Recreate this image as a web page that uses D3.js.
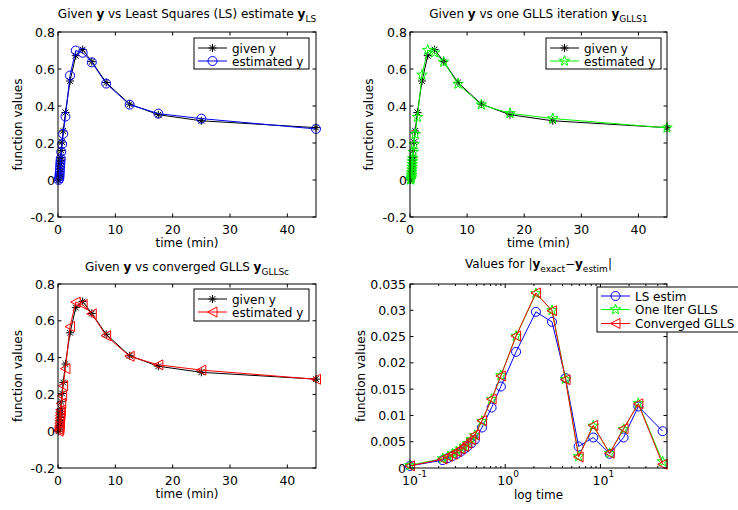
<!DOCTYPE html>
<html>
<head>
<meta charset="utf-8">
<script src="https://cdn.jsdelivr.net/npm/d3@7"></script>
<style>
  body { margin: 0; background: #fff; }
  text { font-family: "DejaVu Sans", sans-serif; fill: #000; }
</style>
</head>
<body>
<svg id="fig" width="738" height="510"></svg>
<script>
// sample times (min)
const times = [0.1, 0.22, 0.25, 0.28, 0.31, 0.34, 0.37, 0.40, 0.44, 0.48, 0.57, 0.72, 0.9, 1.3, 2.1, 3.1, 4.3, 5.9, 8.4, 12.5, 17.5, 25, 45];

// function values
const givenY = [0.000, 0.010, 0.020, 0.032, 0.045, 0.060, 0.075, 0.090, 0.106, 0.122, 0.160, 0.205, 0.265, 0.365, 0.535, 0.672, 0.705, 0.640, 0.527, 0.410, 0.353, 0.320, 0.283];
const lsY    = [0.0004, 0.0085, 0.0181, 0.0297, 0.0423, 0.0569, 0.0714, 0.0859, 0.1013, 0.1166, 0.1523, 0.1935, 0.2495, 0.3429, 0.5647, 0.6998, 0.6879, 0.6359, 0.5212, 0.4073, 0.3588, 0.3317, 0.2760];
const glls1Y = [0.0005, 0.0082, 0.0178, 0.0293, 0.0419, 0.0564, 0.0709, 0.0853, 0.1006, 0.1158, 0.1511, 0.1919, 0.2474, 0.3399, 0.5682, 0.7020, 0.6881, 0.6378, 0.5190, 0.4072, 0.3604, 0.3323, 0.2818];
const gllscY = [0.0004, 0.0083, 0.0178, 0.0294, 0.0419, 0.0564, 0.0709, 0.0853, 0.1006, 0.1157, 0.1510, 0.1919, 0.2475, 0.3399, 0.5683, 0.7019, 0.6882, 0.6379, 0.5189, 0.4072, 0.3605, 0.3322, 0.2823];

// |y_exact - y_estim|
const lsErr    = [0.0004, 0.0015, 0.0019, 0.0023, 0.0027, 0.0031, 0.0036, 0.0041, 0.0047, 0.0054, 0.0077, 0.0115, 0.0155, 0.0221, 0.0297, 0.0278, 0.0171, 0.0041, 0.0058, 0.0027, 0.0058, 0.0117, 0.0070];
const glls1Err = [0.0005, 0.0018, 0.0022, 0.0027, 0.0031, 0.0036, 0.0041, 0.0047, 0.0054, 0.0062, 0.0089, 0.0131, 0.0176, 0.0251, 0.0332, 0.0300, 0.0169, 0.0022, 0.0080, 0.0028, 0.0074, 0.0123, 0.0012];
const gllscErr = [0.0004, 0.0017, 0.0022, 0.0026, 0.0031, 0.0036, 0.0041, 0.0047, 0.0054, 0.0063, 0.0090, 0.0131, 0.0175, 0.0251, 0.0333, 0.0299, 0.0168, 0.0021, 0.0081, 0.0028, 0.0075, 0.0122, 0.0007];

// tick values
const timeTicks = [0, 10, 20, 30, 40];
const valueTicks = [-0.2, 0, 0.2, 0.4, 0.6, 0.8];
const errTicks = [0, 0.005, 0.01, 0.015, 0.02, 0.025, 0.03, 0.035];
const errTickLabels = ['0', '0.005', '0.01', '0.015', '0.02', '0.025', '0.03', '0.035'];
const logTicks = [0.1, 1, 10];
const logTickExp = ['-1', '0', '1'];
const logMinor = [0.2, 0.3, 0.4, 0.5, 0.6, 0.7, 0.8, 0.9, 2, 3, 4, 5, 6, 7, 8, 9, 20, 30, 40];

const svg = d3.select('#fig');

// marker shapes (MATLAB style)
function markerPath(kind) {
  if (kind === 'asterisk') {
    const r = 4, a = r * 0.72;
    return `M${-r},0H${r}M0,${-r}V${r}M${-a},${-a}L${a},${a}M${-a},${a}L${a},${-a}`;
  }
  if (kind === 'star') {
    let pts = [];
    for (let i = 0; i < 10; i++) {
      const R = i % 2 === 0 ? 5.5 : 2.2;
      const ang = -Math.PI / 2 + i * Math.PI / 5;
      pts.push([R * Math.cos(ang), R * Math.sin(ang)]);
    }
    return 'M' + pts.map(p => p.join(',')).join('L') + 'Z';
  }
  if (kind === 'tri') return 'M-5,0L4.5,-5L4.5,5Z';
  return null;
}

function drawMarker(g, kind, x, y, color) {
  if (kind === 'circle') {
    g.append('circle').attr('cx', x).attr('cy', y).attr('r', 4.5)
      .attr('fill', 'none').attr('stroke', color).attr('stroke-width', 1);
  } else {
    g.append('path').attr('d', markerPath(kind)).attr('transform', `translate(${x},${y})`)
      .attr('fill', 'none').attr('stroke', color).attr('stroke-width', 1);
  }
}

function drawSeries(g, xs, ys, x, y, color, kind) {
  const line = d3.line().x((d, i) => x(xs[i])).y(d => y(d));
  g.append('path').attr('d', line(ys)).attr('fill', 'none')
    .attr('stroke', color).attr('stroke-width', 1);
  ys.forEach((v, i) => drawMarker(g, kind, x(xs[i]), y(v), color));
}

// text with bold / subscript parts
function richText(x, y, parts, anchor) {
  const t = svg.append('text').attr('x', x).attr('y', y)
    .attr('text-anchor', anchor || 'middle').attr('font-size', 12);
  let inSub = false;
  parts.forEach(p => {
    const s = t.append('tspan').text(p.t);
    if (p.b) s.attr('font-weight', 'bold');
    if (p.sub && !inSub) { s.attr('dy', 4).attr('font-size', 9); inSub = true; }
    else if (p.sub) s.attr('font-size', 9);
    else if (inSub) { s.attr('dy', -4); inSub = false; }
  });
  return t;
}

function box(g, x, y) {
  const [x0, x1] = x.range(), [y1, y0] = y.range();
  g.append('rect').attr('x', x0).attr('y', y0).attr('width', x1 - x0).attr('height', y1 - y0)
    .attr('fill', 'none').attr('stroke', '#000').attr('stroke-width', 1);
}

function ticks(g, x, y, xt, yt, xlen, ylen) {
  const [x0, x1] = x.range(), [y1, y0] = y.range();
  xt.forEach(v => {
    g.append('line').attr('x1', x(v)).attr('x2', x(v)).attr('y1', y1).attr('y2', y1 - xlen).attr('stroke', '#000');
    g.append('line').attr('x1', x(v)).attr('x2', x(v)).attr('y1', y0).attr('y2', y0 + xlen).attr('stroke', '#000');
  });
  yt.forEach(v => {
    g.append('line').attr('x1', x0).attr('x2', x0 + ylen).attr('y1', y(v)).attr('y2', y(v)).attr('stroke', '#000');
    g.append('line').attr('x1', x1).attr('x2', x1 - ylen).attr('y1', y(v)).attr('y2', y(v)).attr('stroke', '#000');
  });
}

function legend(x0, y0, w, h, rows) {
  const g = svg.append('g');
  g.append('rect').attr('x', x0).attr('y', y0).attr('width', w).attr('height', h)
    .attr('fill', '#fff').attr('stroke', '#000').attr('stroke-width', 1);
  rows.forEach(r => {
    g.append('line').attr('x1', x0 + 4).attr('x2', x0 + 33).attr('y1', r.y).attr('y2', r.y)
      .attr('stroke', r.color).attr('stroke-width', 1);
    drawMarker(g, r.kind, x0 + 18.5, r.y, r.color);
    g.append('text').attr('x', x0 + 38).attr('y', r.y + 4.5).attr('font-size', 12).text(r.label);
  });
}

// ---------- three fit panels ----------
const fitPanels = [
  { left: 58, right: 316, top: 32, bottom: 217, est: lsY, color: '#0000ff', kind: 'circle',
    title: [{ t: 'Given ' }, { t: 'y', b: 1 }, { t: ' vs Least Squares (LS) estimate ' }, { t: 'y', b: 1 }, { t: 'LS', sub: 1 }],
    titleY: 18, ylabX: 22, leg: [194, 38, 115, 31] },
  { left: 410, right: 667, top: 32, bottom: 217, est: glls1Y, color: '#00ff00', kind: 'star',
    title: [{ t: 'Given ' }, { t: 'y', b: 1 }, { t: ' vs one GLLS iteration ' }, { t: 'y', b: 1 }, { t: 'GLLS1', sub: 1 }],
    titleY: 17.5, ylabX: 373, leg: [546, 38, 115, 31] },
  { left: 58, right: 316, top: 284, bottom: 468, est: gllscY, color: '#ff0000', kind: 'tri',
    title: [{ t: 'Given ' }, { t: 'y', b: 1 }, { t: ' vs converged GLLS ' }, { t: 'y', b: 1 }, { t: 'GLLSc', sub: 1 }],
    titleY: 271, ylabX: 22, leg: [194, 289, 115, 32] }
];

fitPanels.forEach(p => {
  const x = d3.scaleLinear().domain([0, 45]).range([p.left, p.right]);
  const y = d3.scaleLinear().domain([-0.2, 0.8]).range([p.bottom, p.top]);
  const g = svg.append('g');
  g.append('rect').attr('x', p.left).attr('y', p.top).attr('width', p.right - p.left)
    .attr('height', p.bottom - p.top).attr('fill', '#fff');
  ticks(g, x, y, timeTicks, valueTicks, 3.5, 3.5);
  drawSeries(g, times, givenY, x, y, '#000', 'asterisk');
  drawSeries(g, times, p.est, x, y, p.color, p.kind);
  box(g, x, y);

  timeTicks.forEach(v => g.append('text').attr('x', x(v)).attr('y', p.bottom + 17)
    .attr('text-anchor', 'middle').attr('font-size', 12.5).text(v));
  valueTicks.forEach(v => g.append('text').attr('x', p.left - 3).attr('y', y(v) + 4.5)
    .attr('text-anchor', 'end').attr('font-size', 12.5)
    .text(v === 0 ? '0' : d3.format('.1f')(v).replace('−', '-')));

  svg.append('text').attr('x', (p.left + p.right) / 2).attr('y', p.bottom + 30)
    .attr('text-anchor', 'middle').attr('font-size', 12).text('time (min)');
  svg.append('text').attr('transform', `translate(${p.ylabX},${(p.top + p.bottom) / 2}) rotate(-90)`)
    .attr('text-anchor', 'middle').attr('font-size', 12).text('function values');
  richText((p.left + p.right) / 2, p.titleY, p.title);

  const [lx, ly, lw, lh] = p.leg;
  legend(lx, ly, lw, lh, [
    { y: ly + 10, color: '#000', kind: 'asterisk', label: 'given y' },
    { y: ly + 23, color: p.color, kind: p.kind, label: 'estimated y' }
  ]);
});

// ---------- error panel (log time) ----------
{
  const left = 410, right = 667, top = 284, bottom = 468;
  const x = d3.scaleLog().domain([0.1, 50]).range([left, right]);
  const y = d3.scaleLinear().domain([0, 0.035]).range([bottom, top]);
  const g = svg.append('g');
  ticks(g, x, y, logTicks, errTicks, 4, 3.5);
  ticks(g, x, y, logMinor, [], 2, 0);
  drawSeries(g, times, lsErr, x, y, '#0000ff', 'circle');
  drawSeries(g, times, glls1Err, x, y, '#00ff00', 'star');
  drawSeries(g, times, gllscErr, x, y, '#ff0000', 'tri');
  box(g, x, y);

  errTicks.forEach((v, i) => g.append('text').attr('x', left - 4).attr('y', y(v) + 4.5)
    .attr('text-anchor', 'end').attr('font-size', 12.5).text(errTickLabels[i]));
  logTicks.forEach((v, i) => {
    g.append('text').attr('x', x(v)).attr('y', bottom + 17).attr('text-anchor', 'middle')
      .attr('font-size', 12.5).text('10');
    g.append('text').attr('x', x(v) + 8).attr('y', bottom + 9).attr('font-size', 9).text(logTickExp[i]);
  });

  svg.append('text').attr('x', (left + right) / 2).attr('y', bottom + 31)
    .attr('text-anchor', 'middle').attr('font-size', 12).text('log time');
  svg.append('text').attr('transform', `translate(365,${(top + bottom) / 2}) rotate(-90)`)
    .attr('text-anchor', 'middle').attr('font-size', 12).text('function values');
  richText((left + right) / 2, 268, [{ t: 'Values for |' }, { t: 'y', b: 1 }, { t: 'exact', sub: 1 },
    { t: '−' }, { t: 'y', b: 1 }, { t: 'estim', sub: 1 }, { t: '|' }]);

  legend(597, 287, 150, 45, [
    { y: 296, color: '#0000ff', kind: 'circle', label: 'LS estim' },
    { y: 309.5, color: '#00ff00', kind: 'star', label: 'One Iter GLLS' },
    { y: 323.5, color: '#ff0000', kind: 'tri', label: 'Converged GLLS' }
  ]);
}
</script>
</body>
</html>
